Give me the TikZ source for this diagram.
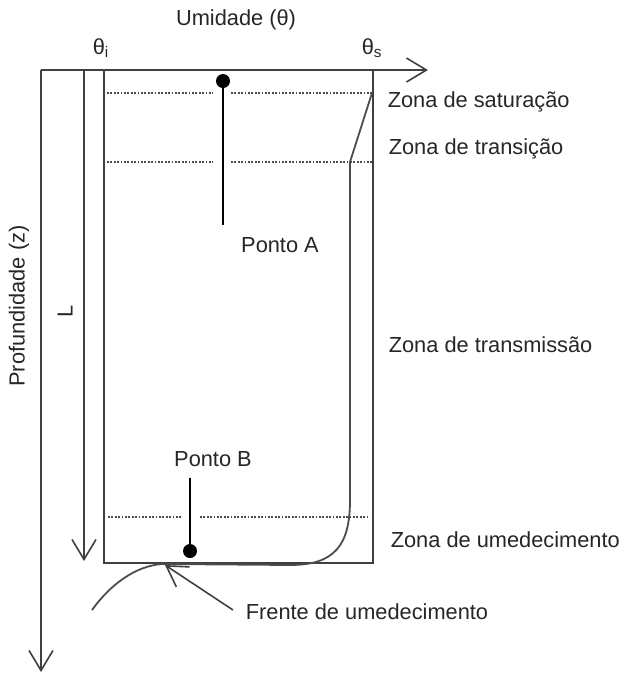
\documentclass[tikz,border=0pt]{standalone}
\usepackage{fontspec}
\setmainfont{Liberation Sans}
\usetikzlibrary{arrows.meta,positioning}

\begin{document}
\begin{tikzpicture}[x=0.5pt,y=-0.5pt,
	line width=0.8pt,
	every node/.style={font=\fontsize{10.9}{13}\selectfont, text=black!85, inner sep=0pt},
	axis/.style={draw=black!75, -{Straight Barb[length=10pt,width=12pt]}},
	wall/.style={draw=black!75},
	dots/.style={draw=black!70, line width=0.6pt, dash pattern=on 0.9pt off 0.8pt},
	zonetxt/.style={anchor=west}]
	\useasboundingbox (0,0) rectangle (625,676);
	\def\xi{104} % theta i
	\def\xs{373} % theta s
	\def\yt{70}  % top
	\def\yb{563} % bottom of the wet zone
	
	% axes
	\coordinate (O) at (41,\yt);
	\coordinate (Xend) at (428,\yt);
	\coordinate (Zend) at (41,672);
	\draw[axis] (O) -- (Xend);
	\draw[axis] (O) -- (Zend);
	\node (umid) at (236,20) {Umidade (θ)};
	\node[rotate=90] (prof) at (19,306) {Profundidade (z)};
	\node[anchor=west] (ti) at (92,48) {θ\textsubscript{i}};
	\node[anchor=west] (ts) at (361,48) {θ\textsubscript{s}};
	
	% depth L
	\coordinate (Ltop) at (84,\yt);
	\coordinate (Lbot) at (84,561);
	\draw[axis] (Ltop) -- (Lbot);
	\node[rotate=90] (L) at (65,311) {L};
	
	% box
	\coordinate (BL) at (\xi,\yb);
	\coordinate (BR) at (\xs,\yb);
	\draw[wall] (\xi,\yt) -- (BL) -- (BR) -- (\xs,\yt);
	
	% zone limits (dotted)
	\draw[dots] (107,93) -- (213,93) (231,93) -- (372,93);
	\draw[dots] (107,162) -- (213,162) (231,162) -- (372,162);
	\draw[dots] (108,517) -- (182,517) (200,517) -- (370,517);
	
	% moisture profile
	\draw[draw=black!70, line width=0.9pt] (372,93) -- (350,162) -- (350,500)
		.. controls (350,545) and (335,565) .. (290,565) -- (162,564);
	\draw[draw=black!70, line width=0.9pt] (92,610) .. controls (110,585) and (135,566) .. (162,564);
	
	% point A
	\coordinate (A) at (223,81);
	\fill[black] (A) circle (3.5pt);
	\node (pA) at (280,245) {Ponto A};
	\draw[black] (A) -- (223,225);
	
	% point B
	\coordinate (B) at (190,551);
	\fill[black] (B) circle (3.5pt);
	\node (pB) at (213,459) {Ponto B};
	\draw[black] (190,478) -- (B);
	
	% zone names
	\node[zonetxt] (zsat) at (387,102) {Zona de saturação};
	\node[zonetxt] (ztra) at (388,149) {Zona de transição};
	\node[zonetxt] (ztrm) at (388,345) {Zona de transmissão};
	\node[zonetxt] (zume) at (390,540) {Zona de umedecimento};
	
	% wetting front
	\node[anchor=west] (frente) at (245,612) {Frente de umedecimento};
	\coordinate (Ftail) at (233,610);
	\coordinate (Ftip) at (165,565);
	\draw[axis] (Ftail) -- (Ftip);
\end{tikzpicture}
\end{document}
